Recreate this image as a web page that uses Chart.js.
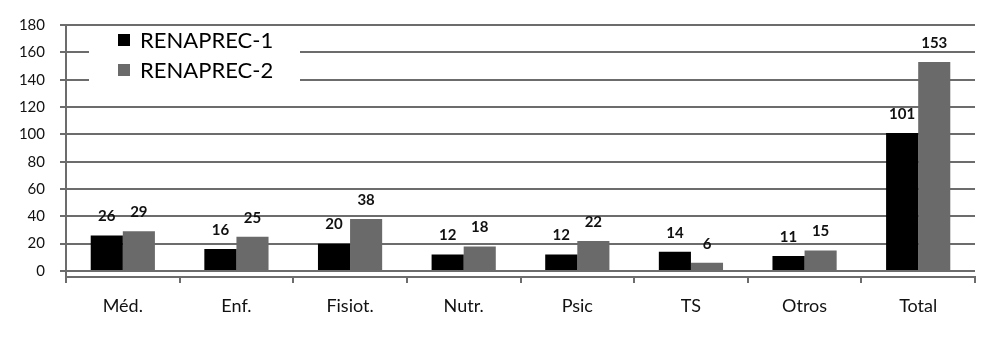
<!DOCTYPE html>
<html>
<head>
<meta charset="utf-8">
<script src="https://cdn.jsdelivr.net/npm/chart.js@4.4.0/dist/chart.umd.min.js"></script>
<style>
html,body{margin:0;padding:0;background:#fff;}
#wrap{width:1000px;height:337px;position:relative;}
</style>
</head>
<body>
<div id="wrap"><canvas id="c" width="1000" height="337"></canvas></div>
<script>
const categories = ['Méd.', 'Enf.', 'Fisiot.', 'Nutr.', 'Psic', 'TS', 'Otros', 'Total'];
const seriesNames = ['RENAPREC-1', 'RENAPREC-2'];
const renaprec1 = [26, 16, 20, 12, 12, 14, 11, 101];
const renaprec2 = [29, 25, 38, 18, 22, 6, 15, 153];
const yTicks = [0, 20, 40, 60, 80, 100, 120, 140, 160, 180];

const GRID = '#6c6c6c';
const FONT = 'Lato, "Open Sans", sans-serif';

const valueLabels = {
  id: 'valueLabels',
  afterDatasetsDraw(chart) {
    const ctx = chart.ctx;
    ctx.save();
    ctx.font = 'bold 15px ' + FONT;
    ctx.fillStyle = '#111';
    ctx.textAlign = 'center';
    ctx.textBaseline = 'middle';
    chart.data.datasets.forEach((ds, i) => {
      const meta = chart.getDatasetMeta(i);
      meta.data.forEach((el, j) => {
        ctx.fillText(String(ds.data[j]), el.x, el.y - 19);
      });
    });
    ctx.restore();
  }
};

const boxLegend = {
  id: 'boxLegend',
  afterDraw(chart) {
    const ctx = chart.ctx;
    ctx.save();
    ctx.fillStyle = '#fff';
    ctx.fillRect(89, 30, 211, 66);
    ctx.font = '22px ' + FONT;
    ctx.textAlign = 'left';
    ctx.textBaseline = 'middle';
    chart.data.datasets.forEach((ds, i) => {
      const cy = 40 + i * 30;
      ctx.fillStyle = ds.backgroundColor;
      ctx.fillRect(118, cy - 6, 12, 12);
      ctx.fillStyle = '#000';
      ctx.fillText(ds.label, 140, cy + 1);
    });
    ctx.restore();
  }
};

new Chart(document.getElementById('c'), {
  type: 'bar',
  data: {
    labels: categories,
    datasets: [
      { label: seriesNames[0], data: renaprec1, backgroundColor: '#000000', categoryPercentage: 0.565, barPercentage: 1.0 },
      { label: seriesNames[1], data: renaprec2, backgroundColor: '#6a6a6a', categoryPercentage: 0.565, barPercentage: 1.0 }
    ]
  },
  options: {
    responsive: false,
    animation: false,
    devicePixelRatio: 1,
    layout: { padding: { top: 25, right: 25, left: 0, bottom: 0 } },
    plugins: { legend: { display: false }, tooltip: { enabled: false } },
    scales: {
      x: {
        offset: true,
        grid: { display: true, drawOnChartArea: false, drawTicks: true, tickLength: 6, color: GRID, lineWidth: 2, offset: true },
        border: { display: true, color: GRID, width: 2 },
        ticks: { color: '#111', font: { family: FONT, size: 18 }, padding: 12, maxRotation: 0 },
        afterFit(s) { s.height = 60; }
      },
      y: {
        min: -4.4,
        max: 180,
        afterBuildTicks(s) { s.ticks = yTicks.map(v => ({ value: v })); },
        grid: { color: GRID, lineWidth: 2, drawTicks: true, tickLength: 6 },
        border: { display: true, color: GRID, width: 2 },
        ticks: { color: '#111', font: { family: FONT, size: 15 }, padding: 15 },
        afterFit(s) { s.width = 66; }
      }
    }
  },
  plugins: [valueLabels, boxLegend]
});
</script>
</body>
</html>
